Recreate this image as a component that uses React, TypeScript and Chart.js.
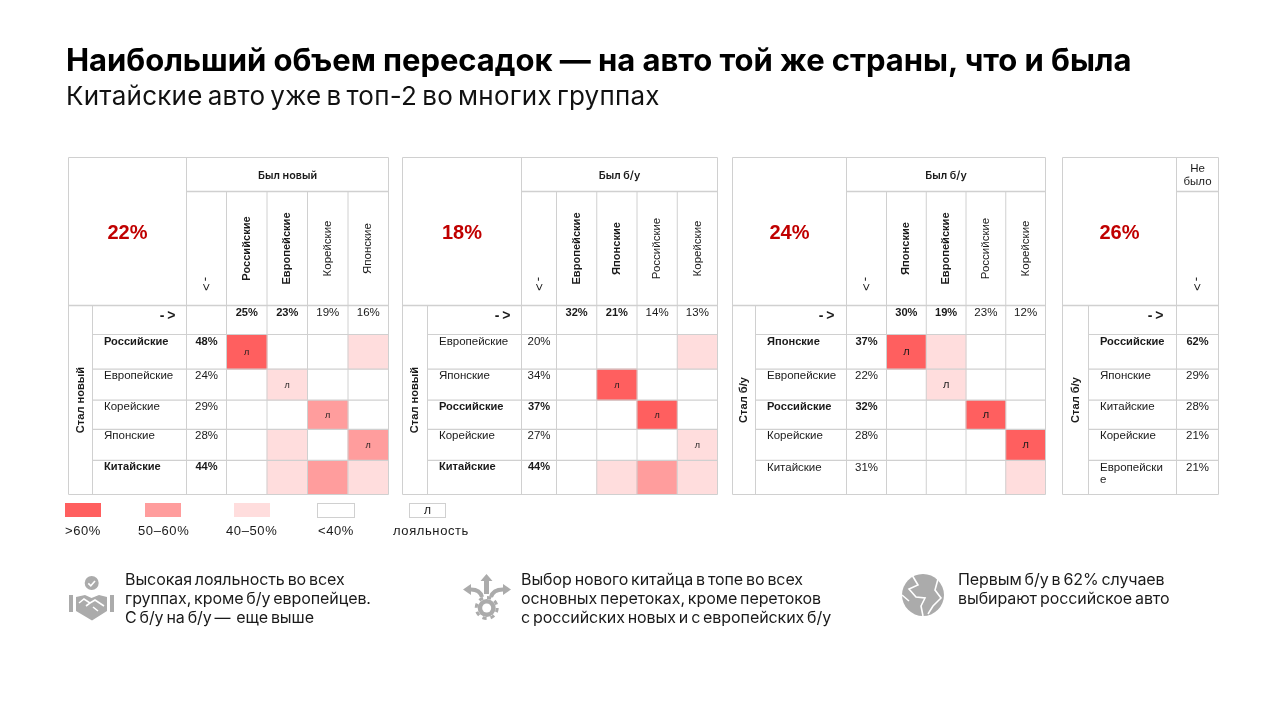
import React, { useEffect, useRef } from "react";
import { Chart, registerables } from "chart.js";

Chart.register(...registerables);

// ---------- data ----------
const title = "Наибольший объем пересадок — на авто той же страны, что и была";
const subtitle = "Китайские авто уже в топ-2 во многих группах";

const headers1 = ["Был новый"];
const shareTotal1 = "22%";
const rowAxis1 = "Стал новый";
const cols1 = ["Российские", "Европейские", "Корейские", "Японские"];
const colShare1 = ["25%", "23%", "19%", "16%"];
const colBold1 = [true, true, false, false];
const rows1 = ["Российские", "Европейские", "Корейские", "Японские", "Китайские"];
const rowShare1 = ["48%", "24%", "29%", "28%", "44%"];
const rowBold1 = [true, false, false, false, true];
const levels1 = [[3, 0, 0, 1], [0, 1, 0, 0], [0, 0, 2, 0], [0, 1, 0, 2], [0, 1, 2, 1]];
const loyal1 = [[0, 0], [1, 1], [2, 2], [3, 3]];

const headers2 = ["Был б/у"];
const shareTotal2 = "18%";
const rowAxis2 = "Стал новый";
const cols2 = ["Европейские", "Японские", "Российские", "Корейские"];
const colShare2 = ["32%", "21%", "14%", "13%"];
const colBold2 = [true, true, false, false];
const rows2 = ["Европейские", "Японские", "Российские", "Корейские", "Китайские"];
const rowShare2 = ["20%", "34%", "37%", "27%", "44%"];
const rowBold2 = [false, false, true, false, true];
const levels2 = [[0, 0, 0, 1], [0, 3, 0, 0], [0, 0, 3, 0], [0, 0, 0, 1], [0, 1, 2, 1]];
const loyal2 = [[1, 1], [2, 2], [3, 3]];

const headers3 = ["Был б/у"];
const shareTotal3 = "24%";
const rowAxis3 = "Стал б/у";
const cols3 = ["Японские", "Европейские", "Российские", "Корейские"];
const colShare3 = ["30%", "19%", "23%", "12%"];
const colBold3 = [true, true, false, false];
const rows3 = ["Японские", "Европейские", "Российские", "Корейские", "Китайские"];
const rowShare3 = ["37%", "22%", "32%", "28%", "31%"];
const rowBold3 = [true, false, true, false, false];
const levels3 = [[3, 1, 0, 0], [0, 1, 0, 0], [0, 0, 3, 0], [0, 0, 0, 3], [0, 0, 0, 1]];
const loyal3 = [[0, 0], [1, 1], [2, 2], [3, 3]];

const headers4 = ["Не", "было"];
const shareTotal4 = "26%";
const rowAxis4 = "Стал б/у";
const cols4: string[] = [];
const colShare4: string[] = [];
const colBold4: boolean[] = [];
const rows4 = ["Российские", "Японские", "Китайские", "Корейские", "Европейски\nе"];
const rowShare4 = ["62%", "29%", "28%", "21%", "21%"];
const rowBold4 = [true, false, false, false, false];
const levels4: number[][] = [[], [], [], [], []];
const loyal4: number[][] = [];

const legendLabels = [">60%", "50–60%", "40–50%", "<40%", "лояльность"];
const loyalMark = "л";
const note1 = ["Высокая лояльность во всех", "группах, кроме б/у европейцев.", "С б/у на б/у —  еще выше"];
const note2 = ["Выбор нового китайца в топе во всех", "основных перетоках, кроме перетоков", "с российских новых и с европейских б/у"];
const note3 = ["Первым б/у в 62% случаев", "выбирают российское авто"];

// ---------- styles / layout ----------
const levelColors = ["#ffffff", "#FFDDDD", "#FF9D9D", "#FF5F5F"];
const gridColor = "#d0d0d0";
const textColor = "#1a1a1a";
const TABLE_FONT = '"Liberation Sans", Arial, sans-serif';
const HEAD_FONT = 'Inter, "Noto Sans", sans-serif';
const TOP = 157.5, HEAD = 191.5, COLHEAD = 305.5, ROWS = 334.5, BOTTOM = 494.5;
const rowHeights = [34.5, 31, 29, 31, 34];
const OX = 6, OY = 6;

type Panel = {
  left: number; split: number; pct: number; plotLeft: number; right: number;
  arrowGap: number; markSize: number; headers: string[]; total: string; rowAxis: string;
  cols: string[]; colShare: string[]; colBold: boolean[];
  rows: string[]; rowShare: string[]; rowBold: boolean[];
  levels: number[][]; loyal: number[][];
};

const panels: Panel[] = [
  { left: 68.5, split: 92.5, pct: 186.5, plotLeft: 226.5, right: 388.5, arrowGap: 11, markSize: 9, headers: headers1, total: shareTotal1, rowAxis: rowAxis1, cols: cols1, colShare: colShare1, colBold: colBold1, rows: rows1, rowShare: rowShare1, rowBold: rowBold1, levels: levels1, loyal: loyal1 },
  { left: 402.5, split: 427.5, pct: 521.5, plotLeft: 556.5, right: 717.5, arrowGap: 11, markSize: 9, headers: headers2, total: shareTotal2, rowAxis: rowAxis2, cols: cols2, colShare: colShare2, colBold: colBold2, rows: rows2, rowShare: rowShare2, rowBold: rowBold2, levels: levels2, loyal: loyal2 },
  { left: 732.5, split: 755.5, pct: 846.5, plotLeft: 886.5, right: 1045.5, arrowGap: 12, markSize: 11, headers: headers3, total: shareTotal3, rowAxis: rowAxis3, cols: cols3, colShare: colShare3, colBold: colBold3, rows: rows3, rowShare: rowShare3, rowBold: rowBold3, levels: levels3, loyal: loyal3 },
  { left: 1062.5, split: 1088.5, pct: 1176.5, plotLeft: 1176.5, right: 1218.5, arrowGap: 13, markSize: 9, headers: headers4, total: shareTotal4, rowAxis: rowAxis4, cols: cols4, colShare: colShare4, colBold: colBold4, rows: rows4, rowShare: rowShare4, rowBold: rowBold4, levels: levels4, loyal: loyal4 },
];

const rowTops = rowHeights.reduce<number[]>((acc, h) => [...acc, acc[acc.length - 1] + h], [0]);
const canvasTop = Math.floor(TOP - OY);
const canvasLeftOf = (p: Panel) => Math.floor(p.left - OX);

function tablePlugin(p: Panel) {
  return {
    id: "tableText",
    afterDatasetsDraw(chart: any) {
      const ctx: CanvasRenderingContext2D = chart.ctx;
      const xs = chart.scales.x;
      const ys = chart.scales.y;
      const colX = (i: number) => xs.getPixelForValue(i);
      const rowEdge = (i: number) => ys.getPixelForValue(rowTops[i]);
      const colStep = p.cols.length ? (p.right - p.plotLeft) / p.cols.length : 0;
      ctx.save();

      const px = (v: number) => v - canvasLeftOf(p);
      const py = (v: number) => v - canvasTop;

      const hLine = (y: number, a: number, b: number, w = 1) => {
        ctx.strokeStyle = gridColor; ctx.lineWidth = w;
        ctx.beginPath(); ctx.moveTo(a, y); ctx.lineTo(b, y); ctx.stroke();
      };
      const vLine = (x: number, a: number, b: number, w = 1) => {
        ctx.strokeStyle = gridColor; ctx.lineWidth = w;
        ctx.beginPath(); ctx.moveTo(x, a); ctx.lineTo(x, b); ctx.stroke();
      };
      // outer / header rules
      hLine(py(TOP), px(p.left), px(p.right));
      hLine(py(HEAD), px(p.pct), px(p.right), 1.3);
      hLine(py(COLHEAD), px(p.left), px(p.right), 1.3);
      hLine(py(ROWS), px(p.split), px(p.right));
      for (let i = 1; i < rowHeights.length; i++) hLine(rowEdge(i), px(p.split), px(p.right), 1.3);
      hLine(py(BOTTOM), px(p.left), px(p.right));
      vLine(px(p.left), py(TOP), py(BOTTOM));
      vLine(px(p.split), py(COLHEAD), py(BOTTOM));
      vLine(px(p.pct), py(TOP), py(BOTTOM));
      vLine(px(p.right), py(TOP), py(BOTTOM));
      p.cols.forEach((_, i) => vLine(px(p.plotLeft + i * colStep), py(HEAD), py(BOTTOM)));

      const text = (s: string, x: number, y: number, font: string, color = textColor, align: CanvasTextAlign = "center", rot = 0, spacing = "0px") => {
        ctx.save();
        ctx.translate(x, y);
        if (rot) ctx.rotate(rot);
        ctx.font = font;
        ctx.fillStyle = color;
        ctx.textAlign = align;
        ctx.textBaseline = "middle";
        (ctx as any).letterSpacing = spacing;
        ctx.fillText(s, 0, 0);
        ctx.restore();
      };
      const reg = `11.5px ${TABLE_FONT}`;
      const bold = `bold 11.1px ${TABLE_FONT}`;

      // big share
      text(p.total, px((p.left + p.pct) / 2), py(233), `bold 20px ${TABLE_FONT}`, "#C00000");
      // group header
      const headX = px((p.pct + p.right) / 2);
      if (p.headers.length === 1) text(p.headers[0], headX, py(175.5), `600 10.8px ${HEAD_FONT}`);
      else p.headers.forEach((h, i) => text(h, headX, py(168.5 + i * 13), reg));
      // arrows
      const pctMid = px((p.pct + (p.cols.length ? p.plotLeft : p.right)) / 2);
      text("->", pctMid - 0.5, py(285), `13px ${TABLE_FONT}`, textColor, "center", Math.PI / 2, "2px");
      text("->", px(p.pct - p.arrowGap + 3), py(316), `bold 14px ${TABLE_FONT}`, textColor, "right", 0, "3px");
      // row axis title
      text(p.rowAxis, px((p.left + p.split) / 2), py(400), `bold 11.1px ${TABLE_FONT}`, textColor, "center", -Math.PI / 2);
      // column labels and shares
      p.cols.forEach((c, i) => {
        const f = p.colBold[i] ? bold : reg;
        text(c, colX(i), py(248.5), f, textColor, "center", -Math.PI / 2);
        text(p.colShare[i], colX(i), py(312.5), f);
      });
      // row labels and shares
      p.rows.forEach((r, i) => {
        const f = p.rowBold[i] ? bold : reg;
        const y = rowEdge(i) + 7;
        r.split("\n").forEach((part, k) => text(part, px(p.split + 11.5), y + k * 12.5, f, textColor, "left"));
        text(p.rowShare[i], pctMid, y, f);
      });
      // loyalty marks
      p.loyal.forEach(([r, c]) => {
        const y = (rowEdge(r) + rowEdge(r + 1)) / 2;
        text(loyalMark, colX(c), y + 0.5, `${p.markSize}px ${TABLE_FONT}`);
      });
      ctx.restore();
    },
  };
}

function PanelChart({ panel }: { panel: Panel }) {
  const ref = useRef<HTMLCanvasElement>(null);
  const canvasLeft = canvasLeftOf(panel);
  const width = Math.ceil(panel.right - panel.left + OX * 2);
  const height = Math.ceil(BOTTOM - TOP + OY * 2);

  useEffect(() => {
    const datasets = panel.levels.map((row, r) => ({
      label: panel.rows[r],
      grouped: false,
      barPercentage: 1,
      categoryPercentage: 1,
      borderWidth: 0,
      data: row.map((lv) => (lv > 0 ? [rowTops[r], rowTops[r + 1]] : null)),
      backgroundColor: row.map((lv) => levelColors[lv]),
    }));
    const chart = new Chart(ref.current as HTMLCanvasElement, {
      type: "bar",
      data: { labels: panel.cols, datasets: datasets as any },
      options: {
        animation: false,
        responsive: false,
        maintainAspectRatio: false,
        devicePixelRatio: 1,
        layout: {
          padding: {
            left: panel.plotLeft - canvasLeft,
            right: width - (panel.right - canvasLeft),
            top: ROWS - canvasTop,
            bottom: height - (BOTTOM - canvasTop),
          },
        },
        plugins: { legend: { display: false }, title: { display: false }, tooltip: { enabled: false } },
        scales: {
          x: { type: "category", display: false, offset: true },
          y: { type: "linear", display: false, reverse: true, min: 0, max: rowTops[rowTops.length - 1] },
        },
      } as any,
      plugins: [tablePlugin(panel)],
    });
    return () => chart.destroy();
  }, []);

  return (
    <canvas
      ref={ref}
      width={width}
      height={height}
      style={{ position: "absolute", left: canvasLeft, top: canvasTop, width, height }}
    />
  );
}

const gray = "#ababab";

function Icons() {
  return (
    <svg style={{ position: "absolute", left: 0, top: 0 }} width={1280} height={720} viewBox="0 0 1280 720">
      {/* handshake */}
      <circle cx={91.7} cy={583} r={7} fill={gray} />
      <polyline points="88.3,583.4 90.8,585.8 95,581" fill="none" stroke="#fff" strokeWidth={1.6} />
      <rect x={69} y={595} width={4} height={17} fill={gray} />
      <rect x={110} y={595} width={4} height={17} fill={gray} />
      <path d="M76 597 L85 595 L91.5 598 L99 595 L107 597 L107 611 L92 620.5 L76 611 Z" fill={gray} />
      <path d="M79 603 L84 599 L90 603 L86 606 M90 603 L95 600 L104 606 M93 607 L98 611" fill="none" stroke="#fff" strokeWidth={1.6} />
      {/* gear with arrows */}
      <circle cx={486.7} cy={608} r={9} fill={gray} />
      <circle cx={486.7} cy={608} r={10.5} fill="none" stroke={gray} strokeWidth={3} strokeDasharray="4.2 4.05" />
      <circle cx={486.7} cy={608} r={4.5} fill="#fff" />
      <polygon points="486.5,574 492.5,581 489,581 489,594 484,594 484,581 480.5,581" fill={gray} />
      <path d="M482 597 Q480 589.5 471 589.5" fill="none" stroke={gray} strokeWidth={4} />
      <polygon points="463,589.5 471,584 471,595" fill={gray} />
      <path d="M491 597 Q493 589.5 503 589.5" fill="none" stroke={gray} strokeWidth={4} />
      <polygon points="511,589.5 503,584 503,595" fill={gray} />
      {/* globe */}
      <circle cx={923} cy={595} r={21} fill={gray} />
      <path d="M912 575 L918 585 L909 589 L916 597 L925 598 L921 606 L923 616 M938 579 L935 590 L941 598 L933 606 L928 614 M902 595 L909 601" fill="none" stroke="#fff" strokeWidth={1.6} />
    </svg>
  );
}

const noteStyle = (left: number, top: number): React.CSSProperties => ({
  position: "absolute",
  left,
  top,
  font: `16px/19px ${HEAD_FONT}`,
  color: textColor,
  letterSpacing: "-0.08px",
  wordSpacing: "-1.5px",
  whiteSpace: "pre",
  willChange: "transform",
});

const legendText: React.CSSProperties = {
  position: "absolute",
  top: 523,
  font: `13px/15px ${TABLE_FONT}`,
  letterSpacing: "0.6px",
  color: textColor,
  whiteSpace: "pre",
  willChange: "transform",
};

const legendSwatches = [
  { x: 65, w: 36, label: 65, color: levelColors[3] },
  { x: 145, w: 36, label: 138, color: levelColors[2] },
  { x: 234, w: 36, label: 226, color: levelColors[1] },
];

export default function App() {
  return (
    <div style={{ position: "relative", width: 1280, height: 720, background: "#fff", overflow: "hidden" }}>
      <style>{`body{margin:0}`}</style>
      <div style={{ position: "absolute", left: 66, top: 41, font: `700 31px/38px ${HEAD_FONT}`, color: "#000", letterSpacing: "-0.05px", whiteSpace: "pre", willChange: "transform" }}>{title}</div>
      <div style={{ position: "absolute", left: 66, top: 80, font: `26px/32px ${HEAD_FONT}`, color: "#111", letterSpacing: "0.25px", wordSpacing: "-2.5px", whiteSpace: "pre", willChange: "transform" }}>{subtitle}</div>

      {panels.map((p, i) => <PanelChart key={i} panel={p} />)}

      {legendSwatches.map((s, i) => (
        <React.Fragment key={i}>
          <div style={{ position: "absolute", left: s.x, top: 503, width: s.w, height: 14, background: s.color }} />
          <div style={{ ...legendText, left: s.label }}>{legendLabels[i]}</div>
        </React.Fragment>
      ))}
      <div style={{ position: "absolute", left: 317, top: 503, width: 36, height: 13, border: `1px solid ${gridColor}` }} />
      <div style={{ ...legendText, left: 318 }}>{legendLabels[3]}</div>
      <div style={{ position: "absolute", left: 409, top: 503, width: 35, height: 13, border: `1px solid ${gridColor}`, font: `12px/13px ${TABLE_FONT}`, textAlign: "center", color: textColor, willChange: "transform" }}>{loyalMark}</div>
      <div style={{ ...legendText, left: 393 }}>{legendLabels[4]}</div>

      <Icons />
      <div style={noteStyle(125, 570)}>{note1.join("\n")}</div>
      <div style={noteStyle(521, 570)}>{note2.join("\n")}</div>
      <div style={noteStyle(958, 570)}>{note3.join("\n")}</div>
    </div>
  );
}
